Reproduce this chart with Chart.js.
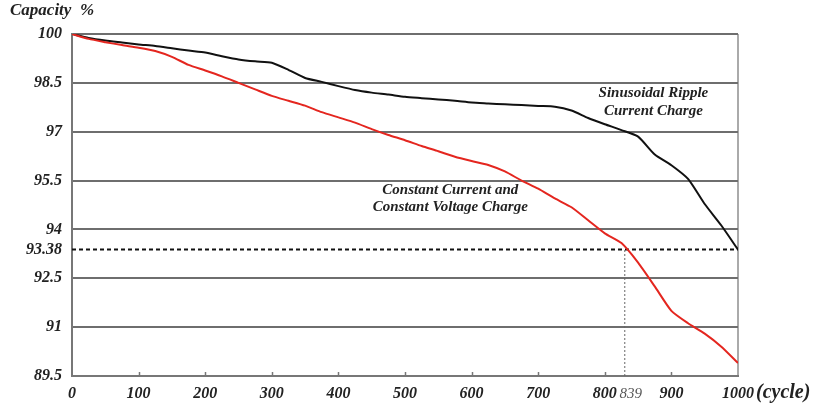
<!DOCTYPE html>
<html>
<head>
<meta charset="utf-8">
<script src="https://cdn.jsdelivr.net/npm/chart.js@4/dist/chart.umd.min.js"></script>
<style>
  body { margin: 0; background: #fff; }
  #wrap { width: 816px; height: 411px; position: relative; }
</style>
</head>
<body>
<div id="wrap"><canvas id="chart"></canvas></div>
<script>
// cycles sampled every 25
const cycles = [0, 25, 50, 75, 100, 125, 150, 175, 200, 225, 250, 275, 300, 325, 350, 375, 400, 425, 450, 475, 500,
  525, 550, 575, 600, 625, 650, 675, 700, 725, 750, 775, 800, 825, 850, 875, 900, 925, 950, 975, 1000];

// Sinusoidal Ripple Current Charge
const rippleCapacity = [100, 99.88, 99.8, 99.74, 99.68, 99.63, 99.56, 99.49, 99.43, 99.32, 99.22, 99.16, 99.12, 98.9,
  98.65, 98.53, 98.4, 98.28, 98.2, 98.14, 98.07, 98.03, 97.99, 97.95, 97.9, 97.87, 97.84, 97.82, 97.79, 97.77,
  97.65, 97.42, 97.23, 97.05, 96.85, 96.3, 95.97, 95.55, 94.78, 94.12, 93.38];

// Constant Current and Constant Voltage Charge
const cccvCapacity = [100, 99.85, 99.75, 99.66, 99.58, 99.48, 99.3, 99.05, 98.88, 98.7, 98.5, 98.3, 98.1, 97.95,
  97.8, 97.6, 97.44, 97.28, 97.08, 96.9, 96.74, 96.56, 96.4, 96.23, 96.1, 95.98, 95.78, 95.5, 95.25, 94.95,
  94.68, 94.28, 93.88, 93.58, 92.98, 92.25, 91.5, 91.12, 90.8, 90.4, 89.9];

const yTicks = [89.5, 91, 92.5, 93.38, 94, 95.5, 97, 98.5, 100];
const xTicks = [0, 100, 200, 300, 400, 500, 600, 700, 800, 900, 1000];
const markCapacity = 93.38;
const markCycle = 830;
const markLabel = '839';

const serif = "'Liberation Serif', 'DejaVu Serif', serif";

const toPoints = (xs, ys) => xs.map((x, i) => ({ x, y: ys[i] }));

const textPlugin = {
  id: 'texts',
  afterDraw(chart) {
    const { ctx, scales: { x, y }, chartArea } = chart;
    ctx.save();
    // small inward ticks on the cycle axis
    ctx.strokeStyle = '#777';
    ctx.lineWidth = 1.5;
    xTicks.slice(1, -1).forEach(v => {
      const px = Math.round(x.getPixelForValue(v)) + 0.5;
      ctx.beginPath();
      ctx.moveTo(px, chartArea.bottom);
      ctx.lineTo(px, chartArea.bottom - 4);
      ctx.stroke();
    });

    ctx.fillStyle = '#222';
    ctx.textBaseline = 'middle';
    ctx.textAlign = 'left';
    ctx.font = 'bold italic 17px ' + serif;
    ctx.fillText('Capacity  %', 10, 11);

    ctx.font = 'bold italic 20px ' + serif;
    ctx.fillText('(cycle)', x.getPixelForValue(1000) + 18, 393);

    ctx.textAlign = 'center';
    ctx.fillStyle = '#555';
    ctx.font = 'italic 15px ' + serif;
    ctx.fillText(markLabel, x.getPixelForValue(839), 394);

    ctx.fillStyle = '#222';
    ctx.font = 'bold italic 15px ' + serif;
    ctx.fillText('Sinusoidal Ripple', x.getPixelForValue(873), y.getPixelForValue(98.17));
    ctx.fillText('Current Charge', x.getPixelForValue(873), y.getPixelForValue(97.62));
    ctx.fillText('Constant Current and', x.getPixelForValue(568), y.getPixelForValue(95.22));
    ctx.fillText('Constant Voltage Charge', x.getPixelForValue(568), y.getPixelForValue(94.68));
    ctx.restore();
  }
};

new Chart(document.getElementById('chart'), {
  type: 'line',
  data: {
    datasets: [
      {
        label: 'Constant Current and Constant Voltage Charge',
        data: toPoints(cycles, cccvCapacity),
        borderColor: '#e4261f',
        borderWidth: 2,
        pointRadius: 0,
        tension: 0.2
      },
      {
        label: 'Sinusoidal Ripple Current Charge',
        data: toPoints(cycles, rippleCapacity),
        borderColor: '#111',
        borderWidth: 2,
        pointRadius: 0,
        tension: 0.2
      },
      {
        label: 'mark level',
        data: [{ x: 0, y: markCapacity }, { x: 1000, y: markCapacity }],
        borderColor: '#111',
        borderWidth: 2,
        borderDash: [4, 3],
        pointRadius: 0
      },
      {
        label: 'mark cycle',
        data: [{ x: markCycle, y: 89.5 }, { x: markCycle, y: markCapacity }],
        borderColor: '#666',
        borderWidth: 1,
        borderDash: [2, 2],
        pointRadius: 0
      }
    ]
  },
  options: {
    responsive: true,
    maintainAspectRatio: false,
    animation: false,
    layout: { padding: { top: 34, right: 78, left: 0, bottom: 0 } },
    plugins: {
      legend: { display: false },
      tooltip: { enabled: false }
    },
    scales: {
      x: {
        type: 'linear',
        min: 0,
        max: 1000,
        afterBuildTicks: scale => { scale.ticks = xTicks.map(v => ({ value: v })); },
        afterFit: scale => { scale.height = 35; },
        ticks: {
          padding: 8,
          maxRotation: 0,
          color: '#222',
          font: { family: serif, size: 16, style: 'italic', weight: 'bold' },
          callback: v => String(v)
        },
        grid: {
          drawTicks: false,
          lineWidth: 2,
          color: c => (c.tick && c.tick.value === 1000 ? '#aaa' : 'rgba(0,0,0,0)')
        },
        border: { color: '#777', width: 2 }
      },
      y: {
        min: 89.5,
        max: 100,
        afterBuildTicks: scale => { scale.ticks = yTicks.map(v => ({ value: v })); },
        afterFit: scale => { scale.width = 72; },
        ticks: {
          padding: 10,
          color: '#222',
          font: { family: serif, size: 16, style: 'italic', weight: 'bold' },
          callback: v => String(v)
        },
        grid: {
          drawTicks: false,
          lineWidth: 2,
          color: c => (c.tick && c.tick.value === markCapacity ? 'rgba(0,0,0,0)' : '#6e6e6e')
        },
        border: { color: '#777', width: 2 }
      }
    }
  },
  plugins: [textPlugin]
});
</script>
</body>
</html>
